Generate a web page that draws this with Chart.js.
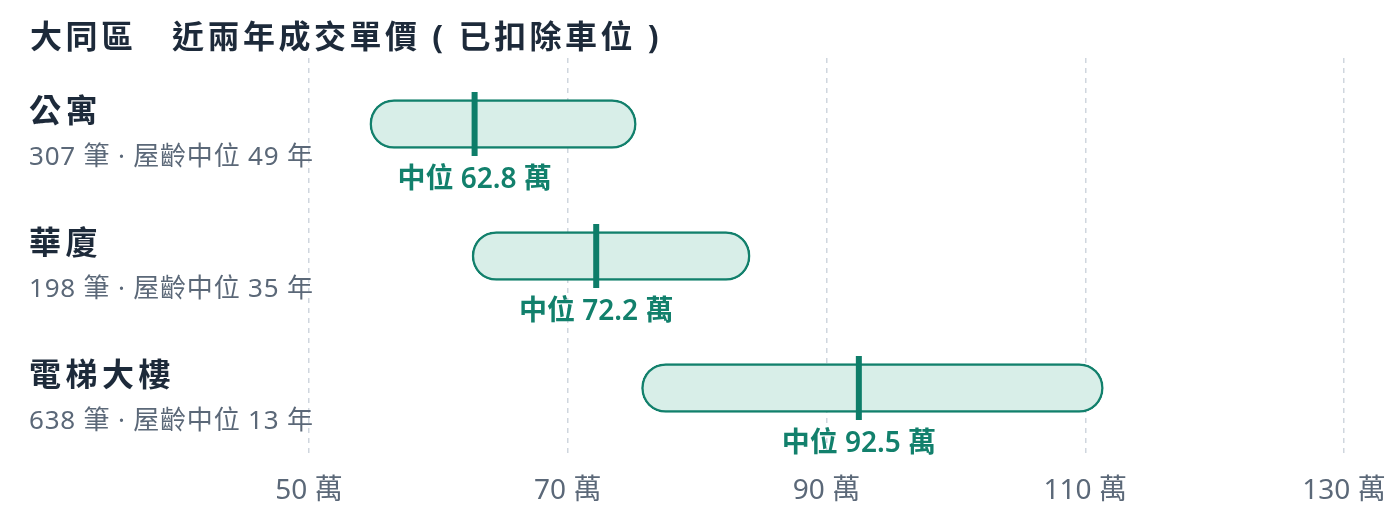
<!DOCTYPE html>
<html>
<head>
<meta charset="utf-8">
<title>大同區 近兩年成交單價</title>
<script src="https://cdn.jsdelivr.net/npm/chart.js@4.4.1/dist/chart.umd.min.js"></script>
<style>
  html, body { margin: 0; padding: 0; background: #ffffff; }
  #wrap { position: relative; width: 1400px; height: 524px; }
  #title {
    position: absolute; left: 30px; top: 16px; margin: 0;
    font: bold 32px "Noto Sans", "Noto Sans CJK TC", sans-serif;
    letter-spacing: 3.5px; line-height: 40px; color: #1d2a3a;
    white-space: pre;
  }
  canvas { position: absolute; left: 0; top: 0; }
</style>
</head>
<body>
<div id="wrap">
  <canvas id="myChart" width="1400" height="524"></canvas>
  <h1 id="title">大同區　近兩年成交單價 ( 已扣除車位 )</h1>
</div>
<script>
// data
const categories = ["公寓", "華廈", "電梯大樓"];
const counts = [307, 198, 638];
const medianAges = [49, 35, 13];
const lowValues = [54.7, 62.6, 75.7];
const highValues = [75.3, 84.1, 111.4];
const medianValues = [62.8, 72.2, 92.5];
const xTickValues = [50, 70, 90, 110, 130];

const teal = "#12806c";
const darkText = "#1d2a3a";
const grayText = "#5b6878";
const fontFamily = '"Noto Sans", "Noto Sans CJK TC", sans-serif';

// left side labels : name + count / age line
const rowLabels = {
  id: "rowLabels",
  afterDraw(chart) {
    const ctx = chart.ctx;
    const yScale = chart.scales.y;
    ctx.save();
    ctx.textAlign = "left";
    ctx.textBaseline = "middle";
    categories.forEach(function(name, i) {
      const y = yScale.getPixelForValue(i);
      ctx.fillStyle = darkText;
      ctx.font = "bold 32px " + fontFamily;
      ctx.letterSpacing = "4.5px";
      ctx.fillText(name, 29, y - 11);
      ctx.fillStyle = grayText;
      ctx.font = "26px " + fontFamily;
      ctx.letterSpacing = "0.8px";
      ctx.fillText(counts[i] + " 筆 · 屋齡中位 " + medianAges[i] + " 年", 29, y + 34);
    });
    ctx.restore();
  }
};

// "中位 xx 萬" under each median tick
const medianLabels = {
  id: "medianLabels",
  afterDatasetsDraw(chart) {
    const ctx = chart.ctx;
    const meta = chart.getDatasetMeta(1);
    ctx.save();
    ctx.fillStyle = teal;
    ctx.font = "600 28px " + fontFamily;
    ctx.textAlign = "center";
    ctx.textBaseline = "middle";
    meta.data.forEach(function(pt, i) {
      ctx.fillText("中位 " + medianValues[i].toFixed(1) + " 萬", pt.x, pt.y + 56);
    });
    ctx.restore();
  }
};

new Chart("myChart", {
  type: "bar",
  data: {
    labels: categories,
    datasets: [{
      type: "bar",
      data: categories.map(function(c, i) { return [lowValues[i], highValues[i]]; }),
      backgroundColor: "#d8eee8",
      borderColor: teal,
      borderWidth: 2.5,
      borderSkipped: false,
      borderRadius: 25,
      barThickness: 49,
      order: 2
    }, {
      type: "scatter",
      data: categories.map(function(c, i) { return { x: medianValues[i], y: c }; }),
      pointStyle: "line",
      rotation: 90,
      radius: 32,
      hoverRadius: 32,
      borderWidth: 6,
      borderColor: "#0e7d69",
      order: 1
    }]
  },
  options: {
    indexAxis: "y",
    responsive: false,
    animation: false,
    events: [],
    layout: { padding: { left: 309, right: 56, top: 58, bottom: 0 } },
    plugins: {
      legend: { display: false },
      tooltip: { enabled: false }
    },
    scales: {
      x: {
        type: "linear",
        offset: false,
        min: xTickValues[0],
        max: xTickValues[xTickValues.length - 1],
        border: { display: false, dash: [5, 5] },
        grid: { offset: false, color: "#cfd6de", lineWidth: 1.5, drawTicks: false },
        afterFit: function(axis) {
          // fixed axis height, and no extra room for the end labels
          axis.height = 70;
          axis.paddingLeft = 0;
          axis.paddingRight = 0;
        },
        ticks: {
          stepSize: xTickValues[1] - xTickValues[0],
          padding: 20,
          color: grayText,
          font: { family: fontFamily, size: 28 },
          callback: function(v) { return v + " 萬"; }
        }
      },
      y: {
        type: "category",
        labels: categories,
        offset: true,
        display: false
      }
    }
  },
  plugins: [rowLabels, medianLabels]
});
</script>
</body>
</html>
